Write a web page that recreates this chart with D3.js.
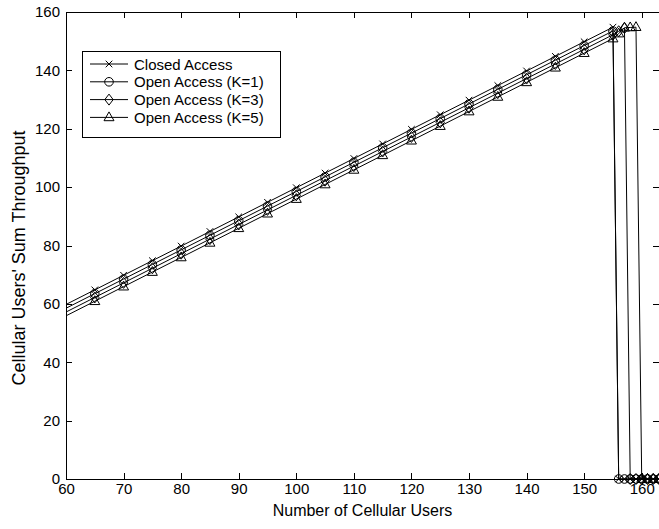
<!DOCTYPE html>
<html><head><meta charset="utf-8">
<script src="https://cdn.jsdelivr.net/npm/d3@7"></script>
<style>body{margin:0;background:#fff}svg{display:block}text{font-family:Arial,"Liberation Sans",Helvetica,sans-serif}</style>
</head><body>
<svg id="c" width="659" height="529"></svg>
<script>
const users = [55,65,70,75,80,85,90,95,100,105,110,115,120,125,130,135,140,145,150,155,156,157,158,159,160,161,162,163];
const closedAccess = [54.8,64.8,69.8,74.8,79.8,84.8,89.8,94.8,99.8,104.8,109.8,114.8,119.8,124.8,129.8,134.8,139.8,144.8,149.8,154.8,0,0,0,0,0,0,0,0];
const openK1 = [53.5,63.5,68.5,73.5,78.5,83.5,88.5,93.5,98.5,103.5,108.5,113.5,118.5,123.5,128.5,133.5,138.5,143.5,148.5,153.5,0,0,0,0,0,0,0,0];
const openK3 = [52.2,62.2,67.2,72.2,77.2,82.2,87.2,92.2,97.2,102.2,107.2,112.2,117.2,122.2,127.2,132.2,137.2,142.2,147.2,152.2,153.4,154.5,0,0,0,0,0,0];
const openK5 = [50.9,60.9,65.9,70.9,75.9,80.9,85.9,90.9,95.9,100.9,105.9,110.9,115.9,120.9,125.9,130.9,135.9,140.9,145.9,150.9,152.6,154.6,154.7,154.8,0,0,0,0];
const seriesNames = ["Closed Access","Open Access (K=1)","Open Access (K=3)","Open Access (K=5)"];
const seriesMarkers = ["x","circle","diamond","triangle"];
const xTicks = [60,70,80,90,100,110,120,130,140,150,160];
const yTicks = [0,20,40,60,80,100,120,140,160];
const xLabel = "Number of Cellular Users";
const yLabel = "Cellular Users' Sum Throughput";

const svg = d3.select("#c");
const L=66,R=659,T=12,B=479;
const x = d3.scaleLinear().domain([60,163]).range([L,R]);
const y = d3.scaleLinear().domain([0,160]).range([B,T]);
const seriesVals=[closedAccess,openK1,openK3,openK5];

svg.append("defs").append("clipPath").attr("id","pc").append("rect").attr("x",L).attr("y",T).attr("width",R-L).attr("height",B-T);

const fs=15, lfs=16;
const ff="Arial, Liberation Sans, sans-serif";
const ax = d3.axisBottom(x).tickValues(xTicks).tickSize(0).tickPadding(4);
svg.append("g").attr("transform",`translate(0,${B})`).call(ax).call(g=>{g.select(".domain").remove();g.selectAll("text").attr("font-size",fs).attr("fill","#000").attr("font-family",ff);});
const ay = d3.axisLeft(y).tickValues(yTicks).tickSize(0).tickPadding(6);
svg.append("g").attr("transform",`translate(${L},0)`).call(ay).call(g=>{g.select(".domain").remove();g.selectAll("text").attr("font-size",fs).attr("fill","#000").attr("font-family",ff);});
const tk=svg.append("g").attr("stroke","#000").attr("stroke-width",1);
xTicks.forEach(v=>{const px=Math.round(x(v))+0.5;tk.append("line").attr("x1",px).attr("x2",px).attr("y1",B).attr("y2",B-6);tk.append("line").attr("x1",px).attr("x2",px).attr("y1",T).attr("y2",T+6);});
yTicks.forEach(v=>{const py=Math.round(y(v))+0.5;tk.append("line").attr("x1",L).attr("x2",L+6).attr("y1",py).attr("y2",py);tk.append("line").attr("x1",R-6).attr("x2",R).attr("y1",py).attr("y2",py);});
svg.append("rect").attr("x",L+0.5).attr("y",T+0.5).attr("width",R-L).attr("height",B-T).attr("fill","none").attr("stroke","#000").attr("stroke-width",1);

const line=d3.line().x((d,i)=>x(users[i])).y(d=>y(d));
const gl=svg.append("g").attr("clip-path","url(#pc)");
seriesVals.forEach(s=>gl.append("path").attr("d",line(s)).attr("fill","none").attr("stroke","#000").attr("stroke-width",1));

function marker(g,type,cx,cy){
  const r=4.3;
  if(type==="x"){g.append("path").attr("d",`M${cx-3.3},${cy-3.3}L${cx+3.3},${cy+3.3}M${cx-3.3},${cy+3.3}L${cx+3.3},${cy-3.3}`).attr("stroke","#000").attr("fill","none");}
  else if(type==="circle"){g.append("circle").attr("cx",cx).attr("cy",cy).attr("r",r).attr("stroke","#000").attr("fill","none");}
  else if(type==="diamond"){g.append("path").attr("d",`M${cx},${cy-5.5}L${cx+4.2},${cy}L${cx},${cy+5.5}L${cx-4.2},${cy}Z`).attr("stroke","#000").attr("fill","none");}
  else {g.append("path").attr("d",`M${cx},${cy-5.5}L${cx+5},${cy+3.3}L${cx-5},${cy+3.3}Z`).attr("stroke","#000").attr("fill","none");}
}
const gm=svg.append("g");
seriesVals.forEach((s,k)=>s.forEach((v,i)=>{if(users[i]>=60) marker(gm,seriesMarkers[k],x(users[i]),y(v));}));

const lg=svg.append("g");
lg.append("rect").attr("x",82.5).attr("y",51.5).attr("width",198).attr("height",86).attr("fill","#fff").attr("stroke","#000");
seriesNames.forEach((n,k)=>{const yy=64+k*17.8;
  lg.append("line").attr("x1",90).attr("x2",128).attr("y1",yy).attr("y2",yy).attr("stroke","#000");
  marker(lg,seriesMarkers[k],109,yy);
  lg.append("text").attr("x",134).attr("y",yy+5.5).attr("font-size",fs).text(n);
});

svg.append("text").attr("x",(L+R)/2).attr("y",516).attr("text-anchor","middle").attr("font-size",lfs).text(xLabel);
svg.append("text").attr("transform",`translate(25,258) rotate(-90)`).attr("text-anchor","middle").attr("font-size",18).text(yLabel);
</script>
</body></html>
